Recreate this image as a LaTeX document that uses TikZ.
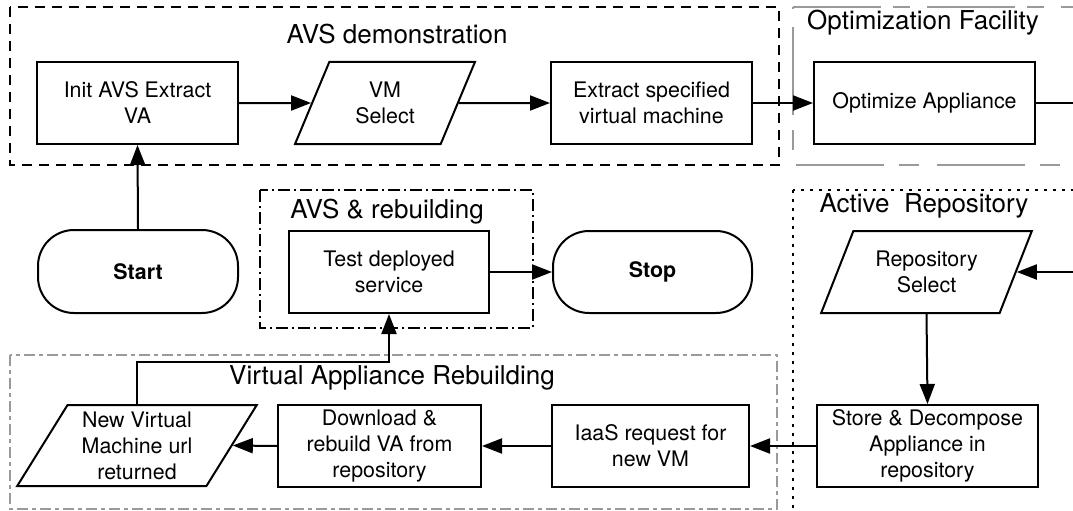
\documentclass[tikz,border=0pt]{standalone}
\usepackage{fontspec}
\setmainfont{TeX Gyre Heros}
\usetikzlibrary{arrows.meta,shapes.geometric}
\definecolor{ink}{HTML}{000000}
\definecolor{frame}{HTML}{9A9A9A}

\begin{document}
\begin{tikzpicture}[x=1pt,y=-1pt,line cap=butt,line join=miter,
    box/.style={draw=ink,line width=2pt,minimum width=201pt,minimum height=82pt,inner sep=2pt,align=center,font=\fontsize{21.4}{26}\selectfont},
    io/.style={box,trapezium,trapezium stretches=true},
    term/.style={box,rounded corners=36pt,font=\fontsize{21.4}{26}\selectfont\bfseries},
    arr/.style={draw=ink,line width=2pt,-{Triangle[length=20pt,width=15pt]}},
    title/.style={font=\fontsize{26}{30}\selectfont}]
  \useasboundingbox (0,0) rectangle (1073,511);
  \clip (0,0) rectangle (1073,511);
  % group frames
  \draw[ink,line width=2pt,dash pattern=on 10pt off 7pt] (10,7) rectangle (779,165);
  \draw[frame,line width=2pt,dash pattern=on 88pt off 15pt on 20pt off 18pt,dash phase=121pt]
    (793,7) -- (793,165) -- (1110,165);
  \draw[frame,line width=2pt,dash pattern=on 88pt off 12pt on 17pt off 17pt] (793,7) -- (1110,7);
  \draw[ink,line width=2pt,dash pattern=on 12pt off 4pt on 2pt off 4pt] (260,190) rectangle (533,328);
  \draw[ink,line width=2pt,dash pattern=on 3pt off 6pt] (793,190) rectangle (1110,540);
  \draw[frame,line width=2pt,dash pattern=on 11pt off 4pt on 4pt off 4pt] (10,355) rectangle (777,509);
  \node[title] (tdemo) at (397,34) {AVS demonstration};
  \node[title] (topt) at (923,23) {Optimization Facility};
  \node[title] (trebuild) at (387,212) {AVS \& rebuilding};
  \node[title] (trepo) at (924,206) {Active\ \ Repository};
  \node[title] (tvab) at (392,378) {Virtual Appliance Rebuilding};
  % steps
  \node[box] (init) at (137.5,103) {Init AVS Extract\\VA};
  \node[io,minimum width=180pt,trapezium left angle=67,trapezium right angle=113] (vmsel) at (385,103) {VM\\Select};
  \node[box] (extract) at (651.5,103) {Extract specified\\virtual machine};
  \node[box,minimum width=221pt] (opt) at (924.5,103) {Optimize Appliance};
  \node[term,minimum width=200pt,minimum height=83pt] (start) at (138,271.5) {Start};
  \node[box,minimum width=200pt] (test) at (389,272) {Test deployed\\service};
  \node[term,minimum width=199pt,minimum height=82pt] (stop) at (652.5,272) {Stop};
  \node[io,minimum width=211pt,trapezium left angle=63,trapezium right angle=117] (reposel) at (926.5,272) {Repository\\Select};
  \node[box,minimum width=221pt] (store) at (927.5,446) {Store \& Decompose\\Appliance in\\repository};
  \node[box,minimum width=197pt] (iaas) at (650.5,446) {IaaS request for\\new VM};
  \node[box,minimum width=203pt] (download) at (379.5,446) {Download \&\\rebuild VA from\\repository};
  \node[io,minimum width=240pt,minimum height=81pt,trapezium left angle=60,trapezium right angle=120] (newvm) at (137,445.5) {New Virtual\\Machine url\\returned};
  \coordinate (bend) at (1095,103);
  % flow
  \draw[arr] (start.north) -- (init.south);
  \draw[arr] (init.east) -- (vmsel.west);
  \draw[arr] (vmsel.east) -- (extract.west);
  \draw[arr] (extract.east) -- (opt.west);
  \draw[arr] (opt.east) -- (bend) |- (reposel.east);
  \draw[arr] (reposel.south) -- (store.north);
  \draw[arr] (store.west) -- (iaas.east);
  \draw[arr] (iaas.west) -- (download.east);
  \draw[arr] (download.west) -- (newvm.east);
  \draw[arr] (newvm.north) -- ++(0,-42) -| (test.south);
  \draw[arr] (test.east) -- (stop.west);
\end{tikzpicture}
\end{document}
